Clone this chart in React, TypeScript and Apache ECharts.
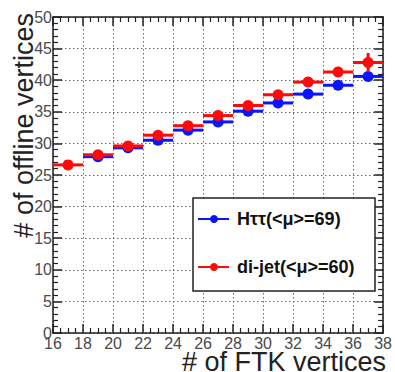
import React, { useEffect, useRef } from "react";
import * as echarts from "echarts";

const binCenters = [17, 19, 21, 23, 25, 27, 29, 31, 33, 35, 37];
const binHalfWidth = 1;
const httValues = [null, 27.9, 29.3, 30.5, 32.1, 33.4, 35.1, 36.4, 37.8, 39.2, 40.6];
const httErrors = [0, 0.3, 0.3, 0.3, 0.3, 0.3, 0.3, 0.4, 0.4, 0.5, 0.6];
const dijetValues = [26.6, 28.2, 29.6, 31.3, 32.8, 34.4, 36.0, 37.7, 39.7, 41.3, 42.8];
const dijetErrors = [0.3, 0.3, 0.3, 0.3, 0.3, 0.4, 0.4, 0.5, 0.6, 0.8, 1.5];
const seriesNames = ["Hττ(<μ>=69)", "di-jet(<μ>=60)"];
const seriesColors = ["#0a14ff", "#ff0a0a"];

function buildData(values: (number | null)[], errors: number[]) {
  const out: number[][] = [];
  values.forEach((v, i) => {
    if (v !== null) out.push([binCenters[i], v, errors[i]]);
  });
  return out;
}

function makeRender(color: string) {
  return (params: any, api: any) => {
    const x = api.value(0);
    const y = api.value(1);
    const e = api.value(2);
    const pl = api.coord([x - binHalfWidth, y]);
    const pr = api.coord([x + binHalfWidth, y]);
    const pc = api.coord([x, y]);
    const pt = api.coord([x, y + e]);
    const pb = api.coord([x, y - e]);
    return {
      type: "group",
      children: [
        { type: "line", shape: { x1: pl[0], y1: pl[1], x2: pr[0], y2: pr[1] }, style: { stroke: color, lineWidth: 3 } },
        { type: "line", shape: { x1: pb[0], y1: pb[1], x2: pt[0], y2: pt[1] }, style: { stroke: color, lineWidth: 3 } },
        { type: "circle", shape: { cx: pc[0], cy: pc[1], r: 5.5 }, style: { fill: color } },
      ],
    };
  };
}

export default function App() {
  const ref = useRef<HTMLDivElement>(null);
  useEffect(() => {
    if (!ref.current) return;
    const chart = echarts.init(ref.current, null, { renderer: "svg" });
    const axisCommon = {
      axisLine: { show: true, onZero: false, lineStyle: { color: "#222", width: 1.5 } },
      axisTick: { show: true, inside: true, length: 9, lineStyle: { color: "#222", width: 1.5 } },
      minorTick: { show: true, length: 5, lineStyle: { color: "#222", width: 1.2 } },
    };
    const labelStyle = { fontFamily: "Liberation Sans, Arial", fontSize: 16, color: "#4a4a4a" };
    chart.setOption({
      animation: false,
      backgroundColor: "#fff",
      grid: { left: 53, right: 7, top: 17, bottom: 39, containLabel: false },
      xAxis: [
        {
          type: "value", min: 16, max: 38, interval: 2, position: "bottom",
          ...axisCommon,
          minorTick: { ...axisCommon.minorTick, splitNumber: 4 },
          axisLabel: { ...labelStyle, margin: 2 },
          splitLine: { show: true, lineStyle: { color: "#666", type: [1.5, 2.5], width: 1 } },
        },
        {
          type: "value", min: 16, max: 38, interval: 2, position: "top",
          ...axisCommon,
          minorTick: { ...axisCommon.minorTick, splitNumber: 4 },
          axisLabel: { show: false }, splitLine: { show: false },
        },
      ],
      yAxis: [
        {
          type: "value", min: 0, max: 50, interval: 5, position: "left",
          ...axisCommon,
          minorTick: { ...axisCommon.minorTick, splitNumber: 5 },
          axisLabel: { ...labelStyle, margin: 1 },
          splitLine: { show: true, lineStyle: { color: "#666", type: [1.5, 2.5], width: 1 } },
        },
        {
          type: "value", min: 0, max: 50, interval: 5, position: "right",
          ...axisCommon,
          minorTick: { ...axisCommon.minorTick, splitNumber: 5 },
          axisLabel: { show: false }, splitLine: { show: false },
        },
      ],
      series: [
        { type: "custom", name: seriesNames[0], renderItem: makeRender(seriesColors[0]), data: buildData(httValues, httErrors), encode: { x: 0, y: 1 }, z: 3 },
        { type: "custom", name: seriesNames[1], renderItem: makeRender(seriesColors[1]), data: buildData(dijetValues, dijetErrors), encode: { x: 0, y: 1 }, z: 4 },
      ],
      graphic: [
        { type: "rect", shape: { x: 193, y: 198, width: 182, height: 93 }, style: { fill: "#fff", stroke: "#222", lineWidth: 1.5 }, z: 10 },
        { type: "line", shape: { x1: 198, y1: 219, x2: 229, y2: 219 }, style: { stroke: seriesColors[0], lineWidth: 2 }, z: 11 },
        { type: "circle", shape: { cx: 214, cy: 219, r: 4 }, style: { fill: seriesColors[0] }, z: 11 },
        { type: "text", x: 237, y: 219, style: { text: seriesNames[0], fontFamily: "Liberation Sans, Arial", fontWeight: "bold", fontSize: 18, fill: "#111", verticalAlign: "middle" }, z: 11 },
        { type: "line", shape: { x1: 198, y1: 267, x2: 229, y2: 267 }, style: { stroke: seriesColors[1], lineWidth: 2 }, z: 11 },
        { type: "circle", shape: { cx: 214, cy: 267, r: 4 }, style: { fill: seriesColors[1] }, z: 11 },
        { type: "text", x: 237, y: 267, style: { text: seriesNames[1], fontFamily: "Liberation Sans, Arial", fontWeight: "bold", fontSize: 18, fill: "#111", verticalAlign: "middle" }, z: 11 },
        { type: "text", x: 386, y: 362, style: { text: "# of FTK vertices", fontFamily: "Liberation Sans, Arial", fontSize: 27, fill: "#222", align: "right", verticalAlign: "middle" }, z: 11 },
        { type: "text", x: 24, y: 13, rotation: Math.PI / 2, style: { text: "# of offline vertices", fontFamily: "Liberation Sans, Arial", fontSize: 27, fill: "#222", align: "right", verticalAlign: "middle" }, z: 11 },
      ],
    });
    return () => chart.dispose();
  }, []);
  return <div ref={ref} style={{ width: 395, height: 372, position: "absolute", left: 0, top: 0 }} />;
}
